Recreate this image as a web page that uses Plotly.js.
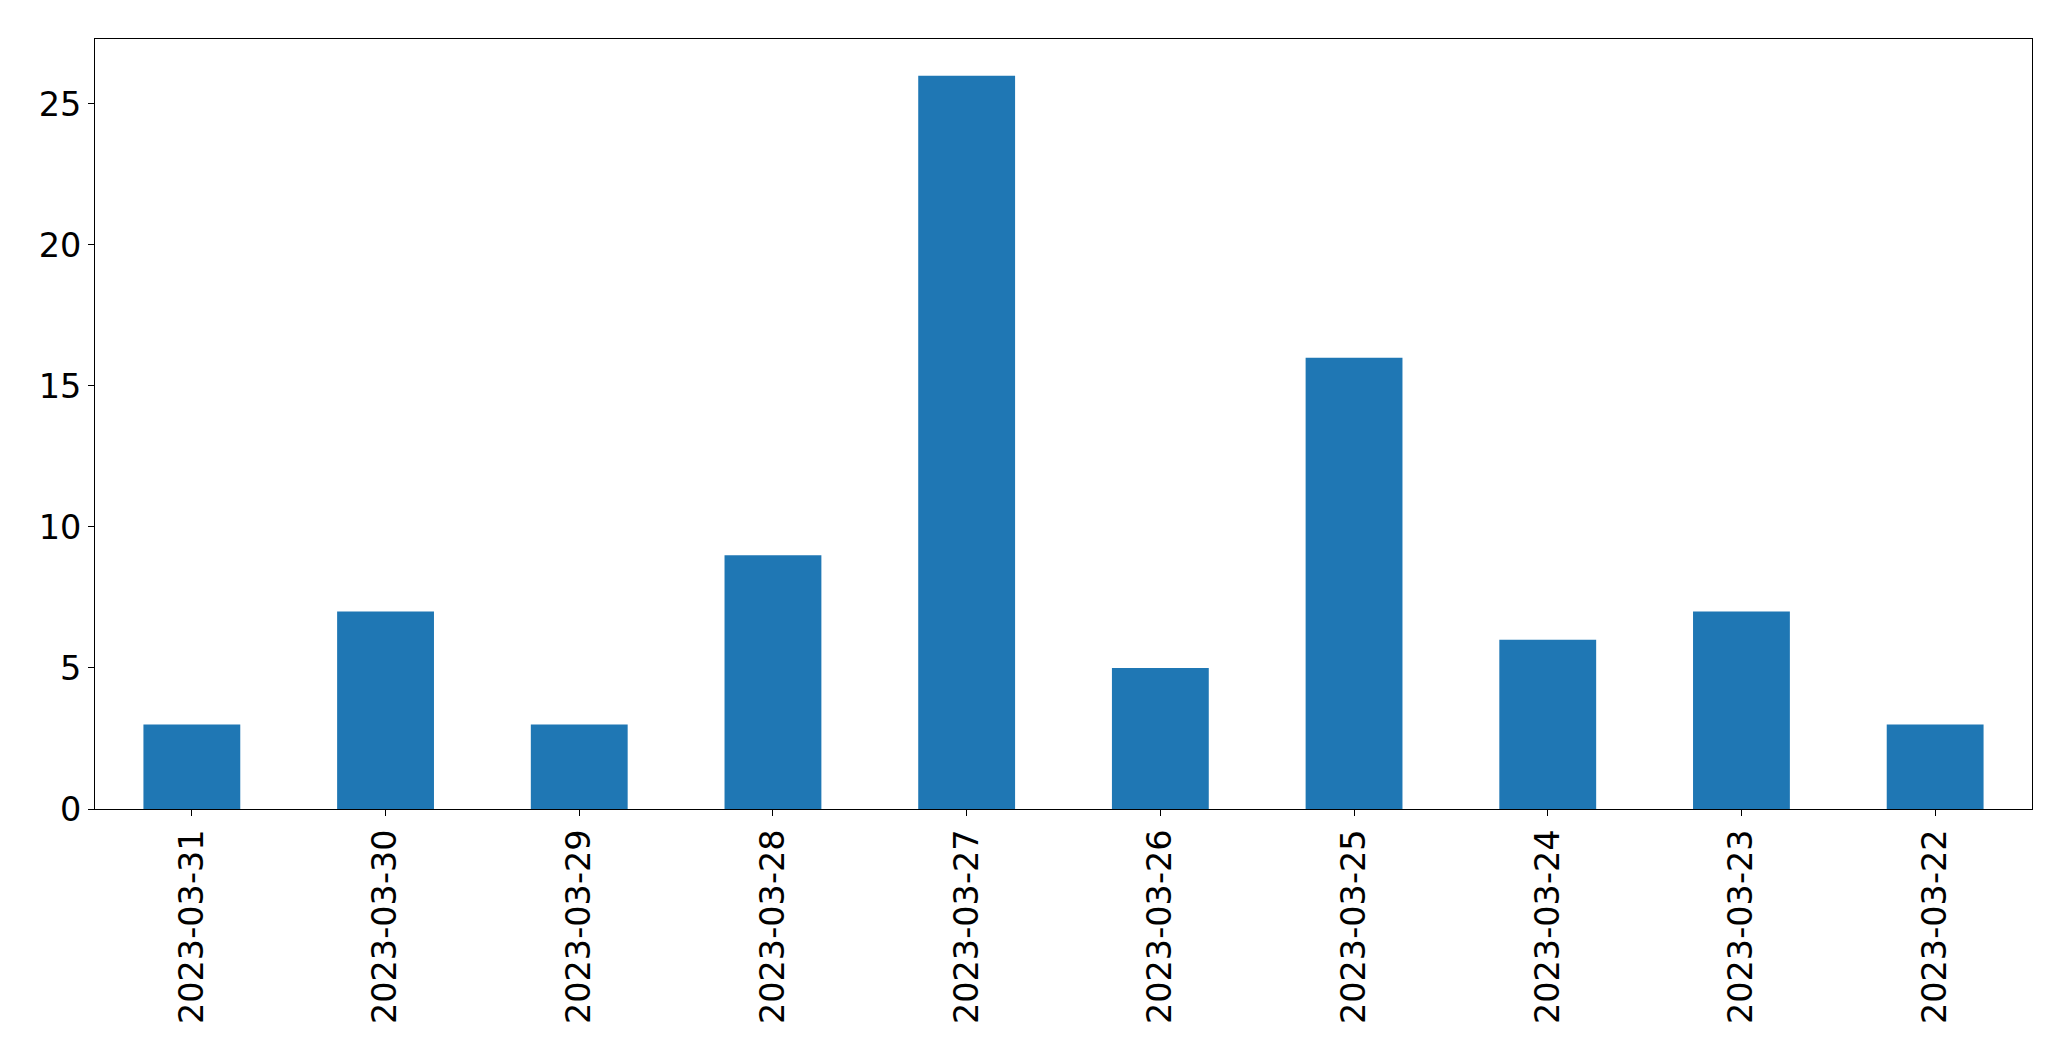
<!DOCTYPE html>
<html>
<head>
<meta charset="utf-8">
<script src="https://cdn.plot.ly/plotly-3.0.1.min.js"></script>
<style>html,body{margin:0;padding:0;background:#fff;}#chart{width:2071px;height:1061px;}</style>
</head>
<body>
<div id="chart"></div>
<script>
const categories = ["2023-03-31","2023-03-30","2023-03-29","2023-03-28","2023-03-27","2023-03-26","2023-03-25","2023-03-24","2023-03-23","2023-03-22"];
const counts = [3, 7, 3, 9, 26, 5, 16, 6, 7, 3];
const yTicks = [0, 5, 10, 15, 20, 25];

const font = {family: "DejaVu Sans", size: 33.5, color: "#000"};
Plotly.newPlot("chart", [{
  type: "bar",
  x: categories,
  y: counts,
  marker: {color: "#1f77b4", line: {width: 0}},
  hoverinfo: "x+y"
}], {
  width: 2071, height: 1061,
  margin: {l: 95, r: 39, t: 39, b: 252, pad: 0},
  paper_bgcolor: "#fff", plot_bgcolor: "#fff",
  bargap: 0.5,
  showlegend: false,
  xaxis: {
    type: "category", range: [-0.5, 9.5],
    tickangle: -90, tickfont: font,
    ticks: "outside", ticklen: 6, tickwidth: 1, tickcolor: "#000",
    showline: true, linecolor: "#000", linewidth: 1, mirror: true,
    showgrid: false, zeroline: false
  },
  yaxis: {
    range: [0, 27.3], tickvals: yTicks, ticktext: yTicks.map(String),
    tickfont: font,
    ticks: "outside", ticklen: 6, tickwidth: 1, tickcolor: "#000",
    showline: true, linecolor: "#000", linewidth: 1, mirror: true,
    showgrid: false, zeroline: false
  }
}, {displayModeBar: false, staticPlot: true});
</script>
</body>
</html>
